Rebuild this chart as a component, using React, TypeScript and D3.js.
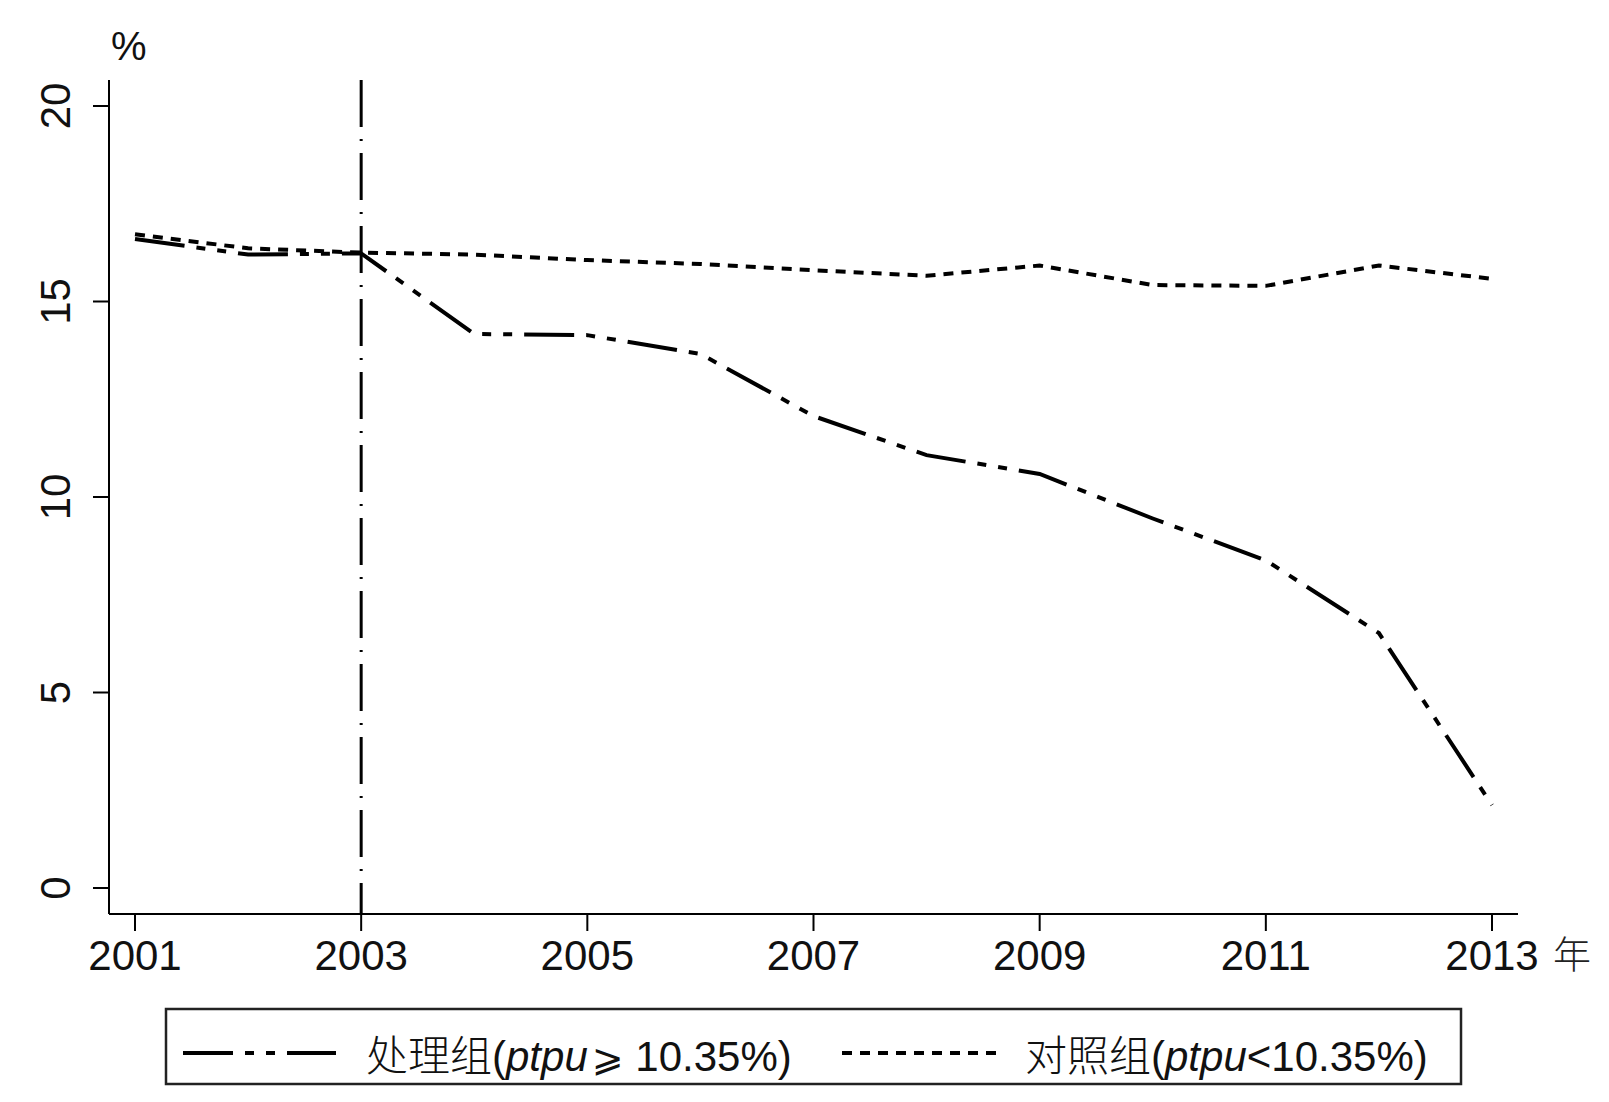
import React from "react";
import * as d3 from "d3";

// chart data
const years = [2001, 2002, 2003, 2004, 2005, 2006, 2007, 2008, 2009, 2010, 2011, 2012, 2013];
const treatment = [16.6, 16.2, 16.23, 14.17, 14.14, 13.66, 12.07, 11.07, 10.59, 9.45, 8.38, 6.52, 2.12];
const control = [16.72, 16.36, 16.25, 16.2, 16.06, 15.96, 15.8, 15.66, 15.92, 15.42, 15.4, 15.92, 15.58];
const xTicks = [2001, 2003, 2005, 2007, 2009, 2011, 2013];
const yTicks = [0, 5, 10, 15, 20];
const policyYear = 2003;

const W = 1609;
const H = 1102;
const latin = "'Liberation Sans', Arial, sans-serif";
const cjk = "'Noto Sans CJK SC', sans-serif";

const App: React.FC = () => {
  const x = d3.scaleLinear().domain([2001, 2013]).range([135, 1492]);
  const y = d3.scaleLinear().domain([0, 20]).range([888, 106]);

  const axisLeft = 109;
  const axisRight = 1518;
  const axisBottom = 914;
  const axisTop = 80;

  const line = d3
    .line<number>()
    .x((_, i) => x(years[i]))
    .y((d) => y(d));

  const treatDash = "50 12 9 12 9 12";
  const ctrlDash = "10 8";

  return (
    <svg
      width={W}
      height={H}
      style={{ position: "absolute", left: 0, top: 0, background: "#fff" }}
    >
      <rect width={W} height={H} fill="#fff" />

      {/* axes */}
      <line x1={axisLeft} x2={axisLeft} y1={axisTop} y2={axisBottom} stroke="#000" strokeWidth={2} />
      <line x1={axisLeft} x2={axisRight} y1={axisBottom} y2={axisBottom} stroke="#000" strokeWidth={2} />

      {yTicks.map((t) => (
        <g key={`y${t}`}>
          <line x1={axisLeft - 16} x2={axisLeft} y1={y(t)} y2={y(t)} stroke="#000" strokeWidth={2} />
          <text
            transform={`translate(70, ${y(t)}) rotate(-90)`}
            textAnchor="middle"
            fontFamily={latin}
            fontSize={42}
            fill="#111"
          >
            {t}
          </text>
        </g>
      ))}

      {xTicks.map((t) => (
        <g key={`x${t}`}>
          <line x1={x(t)} x2={x(t)} y1={axisBottom} y2={axisBottom + 17} stroke="#000" strokeWidth={2} />
          <text x={x(t)} y={970} textAnchor="middle" fontFamily={latin} fontSize={42} fill="#111">
            {t}
          </text>
        </g>
      ))}

      <text x={1553} y={968} fontFamily={cjk} fontSize={38} fontWeight={300} fill="#222">
        年
      </text>
      <text x={111} y={60} fontFamily={latin} fontSize={40} fill="#111">
        %
      </text>

      {/* policy year marker */}
      <line
        x1={x(policyYear)}
        x2={x(policyYear)}
        y1={axisTop}
        y2={axisBottom}
        stroke="#000"
        strokeWidth={3}
        strokeDasharray="47 12 2 12"
      />

      {/* series */}
      <path
        d={line(control) ?? ""}
        fill="none"
        stroke="#000"
        strokeWidth={4}
        strokeDasharray={ctrlDash}
      />
      <path
        d={line(treatment) ?? ""}
        fill="none"
        stroke="#000"
        strokeWidth={4}
        strokeDasharray={treatDash}
      />

      {/* legend */}
      <rect x={166} y={1009} width={1295} height={75} fill="none" stroke="#222" strokeWidth={2.5} />
      <line x1={183} x2={336} y1={1053} y2={1053} stroke="#000" strokeWidth={4} strokeDasharray={treatDash} />
      <text x={366} y={1071} fontSize={42} fill="#111">
        <tspan fontFamily={cjk} fontWeight={300}>处理组</tspan>
        <tspan fontFamily={latin}>(</tspan>
        <tspan fontFamily={latin} fontStyle="italic">ptpu</tspan>
        <tspan fontFamily="'DejaVu Sans', sans-serif" fontSize={38} dx={4}>⩾</tspan>
        <tspan fontFamily={latin}> 10.35%)</tspan>
      </text>
      <line x1={842} x2={998} y1={1053} y2={1053} stroke="#000" strokeWidth={4} strokeDasharray={ctrlDash} />
      <text x={1025} y={1071} fontSize={42} fill="#111">
        <tspan fontFamily={cjk} fontWeight={300}>对照组</tspan>
        <tspan fontFamily={latin}>(</tspan>
        <tspan fontFamily={latin} fontStyle="italic">ptpu</tspan>
        <tspan fontFamily={latin}>&lt;10.35%)</tspan>
      </text>
    </svg>
  );
};

export default App;
